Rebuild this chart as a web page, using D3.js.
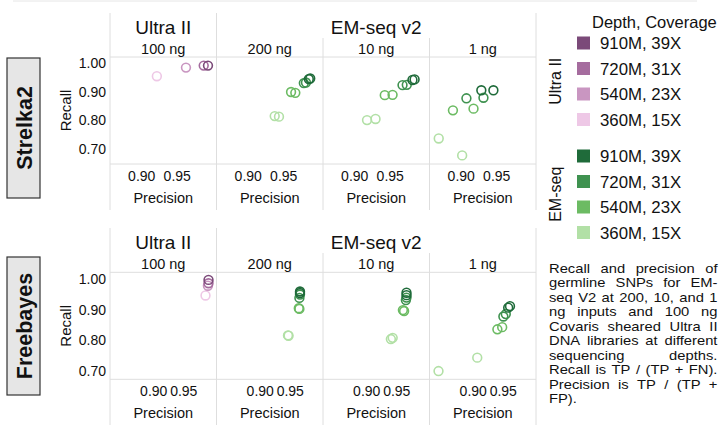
<!DOCTYPE html>
<html><head><meta charset="utf-8">
<script src="https://cdn.jsdelivr.net/npm/d3@7"></script>
<style>body{margin:0;background:#fff}svg{display:block}text{font-family:"Liberation Sans",Arial,sans-serif;fill:#111}</style>
</head><body><svg id="c" width="720" height="426"></svg>
<script>
// ---- data ----
const callers = ["Strelka2", "Freebayes"];
const libraries = ["Ultra II", "EM-seq v2"];
const inputs = ["100 ng", "200 ng", "10 ng", "1 ng"];
const depths = ["910M, 39X", "720M, 31X", "540M, 23X", "360M, 15X"];
const ultraColors = ["#7b4a79", "#a56c9e", "#c996c1", "#eec8e6"];
const emColors = ["#1f6b3a", "#3f9250", "#6cbb63", "#b2e0a6"];
const xTicks = [0.90, 0.95];
const yTicks = [1.00, 0.90, 0.80, 0.70];
// [depth index, precision, recall]
const strelkaUltra100 = [[3,0.922,0.954],[2,0.963,0.984],[1,0.988,0.991],[0,0.994,0.991]];
const strelkaEm200 = [[3,0.938,0.815],[3,0.944,0.813],[2,0.961,0.899],[2,0.967,0.896],[1,0.979,0.930],[1,0.982,0.932],[0,0.986,0.944],[0,0.988,0.946]];
const strelkaEm10 = [[3,0.918,0.801],[3,0.930,0.805],[2,0.943,0.888],[2,0.954,0.889],[1,0.968,0.923],[1,0.974,0.924],[0,0.982,0.941],[0,0.985,0.943]];
const strelkaEm1 = [[3,0.869,0.737],[3,0.902,0.678],[2,0.889,0.835],[2,0.918,0.841],[1,0.908,0.877],[1,0.932,0.879],[0,0.929,0.905],[0,0.946,0.905]];
const freeUltra100 = [[3,0.987,0.947],[2,0.991,0.979],[1,0.992,0.987],[0,0.992,0.998]];
const freeEm200 = [[3,0.947,0.816],[3,0.948,0.815],[2,0.965,0.905],[2,0.966,0.903],[1,0.966,0.939],[1,0.967,0.950],[0,0.967,0.955],[0,0.967,0.960]];
const freeEm10 = [[3,0.941,0.804],[3,0.944,0.808],[2,0.961,0.899],[2,0.963,0.896],[1,0.966,0.932],[1,0.967,0.940],[0,0.967,0.948],[0,0.967,0.956]];
const freeEm1 = [[3,0.843,0.699],[3,0.9075,0.743],[2,0.941,0.836],[2,0.949,0.843],[1,0.951,0.878],[1,0.955,0.886],[0,0.959,0.907],[0,0.962,0.912]];
const captionLines = ["Recall and precision of","germline SNPs for EM-","seq V2 at 200, 10, and 1","ng inputs and 100 ng","Covaris sheared Ultra II","DNA libraries at different","sequencing depths.","Recall is TP / (TP + FN).","Precision is TP / (TP +","FP)."];

const rowsData = [
  [strelkaUltra100, strelkaEm200, strelkaEm10, strelkaEm1],
  [freeUltra100, freeEm200, freeEm10, freeEm1]
];

// ---- layout ----
const svg = d3.select("#c");
const grid = "#dedede";
const panelLeft = 110, panelW = 106.5;
const rows = [
  {top: 0, plotTop: 57, plotH: 107, xDom: [0.856, 1.006], yDom: [0.648, 1.021], box: [58, 140]},
  {top: 215, plotTop: 272.3, plotH: 107, xDom: [0.828, 1.0053], yDom: [0.672, 1.023], box: [257, 138]}
];

svg.append("line").attr("x1", 13).attr("x2", 697).attr("y1", 1).attr("y2", 1).attr("stroke", "#e6e6e6");

rows.forEach((r, ri) => {
  const g = svg.append("g");
  const vTop = r.top + 13, vInner = r.top + 38, vBot = r.top + 210;
  const xs = d3.range(5).map(i => panelLeft + i * panelW);
  xs.forEach((x, i) => {
    g.append("line").attr("x1", x).attr("x2", x)
      .attr("y1", (i === 2 || i === 3) ? vInner : vTop).attr("y2", vBot)
      .attr("stroke", grid);
  });
  [r.plotTop, r.plotTop + r.plotH].forEach(y => g.append("line")
    .attr("x1", panelLeft).attr("x2", panelLeft + 4 * panelW).attr("y1", y).attr("y2", y).attr("stroke", grid));

  // headers
  g.append("text").attr("x", panelLeft + panelW / 2).attr("y", r.top + 34).attr("text-anchor", "middle")
    .attr("font-size", 19).text(libraries[0]);
  g.append("text").attr("x", panelLeft + panelW * 2.5).attr("y", r.top + 34).attr("text-anchor", "middle")
    .attr("font-size", 19).text(libraries[1]);
  inputs.forEach((t, i) => g.append("text").attr("x", panelLeft + panelW * (i + 0.5)).attr("y", r.top + 54)
    .attr("text-anchor", "middle").attr("font-size", 14.5).text(t));

  // caller box
  g.append("rect").attr("x", 7).attr("y", r.box[0]).attr("width", 33).attr("height", r.box[1])
    .attr("fill", "#e6e6e6").attr("stroke", "#333").attr("stroke-width", 1.2);
  g.append("text").attr("transform", `translate(31.5,${r.box[0] + r.box[1] / 2}) rotate(-90)`)
    .attr("text-anchor", "middle").attr("font-size", 21.5).attr("font-weight", "bold").text(callers[ri]);

  const y = d3.scaleLinear().domain(r.yDom).range([r.plotTop + r.plotH, r.plotTop]);
  const x = d3.scaleLinear().domain(r.xDom).range([0, panelW]);

  // y axis
  const ya = g.append("g").attr("transform", `translate(${panelLeft},0)`)
    .call(d3.axisLeft(y).tickValues(yTicks).tickFormat(d3.format(".2f")).tickSize(0).tickPadding(4));
  ya.select(".domain").remove();
  ya.selectAll("text").attr("font-size", 14).attr("fill", "#111").attr("font-family", "Liberation Sans, Arial, sans-serif");
  g.append("text").attr("transform", `translate(71,${r.plotTop + r.plotH / 2}) rotate(-90)`)
    .attr("text-anchor", "middle").attr("font-size", 15).text("Recall");

  // panels
  rowsData[ri].forEach((pts, pi) => {
    const pg = g.append("g").attr("transform", `translate(${panelLeft + pi * panelW},0)`);
    const xa = pg.append("g").attr("transform", `translate(0,${r.plotTop + r.plotH + 3})`)
      .call(d3.axisBottom(x).tickValues(xTicks).tickFormat(d3.format(".2f")).tickSize(0).tickPadding(4));
    xa.select(".domain").remove();
    xa.selectAll("text").attr("font-size", 14).attr("fill", "#111").attr("font-family", "Liberation Sans, Arial, sans-serif");
    pg.append("text").attr("x", panelW / 2).attr("y", r.plotTop + r.plotH + 39).attr("text-anchor", "middle")
      .attr("font-size", 14.5).text("Precision");
    const cols = pi === 0 ? ultraColors : emColors;
    const sorted = pts.slice().sort((a, b) => b[0] - a[0]);
    pg.selectAll("circle").data(sorted).join("circle")
      .attr("cx", d => x(d[1])).attr("cy", d => y(d[2])).attr("r", 4.4)
      .attr("fill", "none").attr("stroke", d => cols[d[0]]).attr("stroke-width", 1.6);
  });
});

// legend
const lg = svg.append("g");
lg.append("text").attr("x", 592).attr("y", 28).attr("font-size", 16.5).attr("fill", "#333").text("Depth, Coverage");
const legY = [43, 68.5, 94, 119.5, 156, 181.5, 207, 232.5];
[[ultraColors, "Ultra II", 0], [emColors, "EM-seq", 4]].forEach(([cols, name, off]) => {
  depths.forEach((d, i) => {
    const cy = legY[off + i];
    lg.append("rect").attr("x", 577).attr("y", cy - 6.5).attr("width", 13).attr("height", 13).attr("fill", cols[i]);
    lg.append("text").attr("x", 600).attr("y", cy + 6).attr("font-size", 16.8).attr("fill", "#333").text(d);
  });
  const mid = (legY[off] + legY[off + 3]) / 2;
  lg.append("text").attr("transform", `translate(561,${mid}) rotate(-90)`).attr("text-anchor", "middle")
    .attr("font-size", 16).attr("fill", "#333").text(name);
});

// caption (justified, slightly widened glyphs as in the reference)
const cx0 = 549, cx1 = 717.5, cy0 = 272.5, lh = 14.5, cfs = 12.5, sx = 1.18;
captionLines.forEach((line, li) => {
  const words = line.split(" ");
  const yy = cy0 + li * lh;
  const nodes = words.map(w => svg.append("text").attr("font-size", cfs).attr("fill", "#333").text(w));
  const widths = nodes.map(n => n.node().getComputedTextLength() * sx);
  const total = d3.sum(widths);
  const last = li === captionLines.length - 1;
  const gap = (!last && words.length > 1) ? (cx1 - cx0 - total) / (words.length - 1) : 3.5 * sx;
  let xx = cx0;
  nodes.forEach((n, i) => { n.attr("transform", `translate(${xx},${yy}) scale(${sx},1)`); xx += widths[i] + gap; });
});
</script></body></html>
